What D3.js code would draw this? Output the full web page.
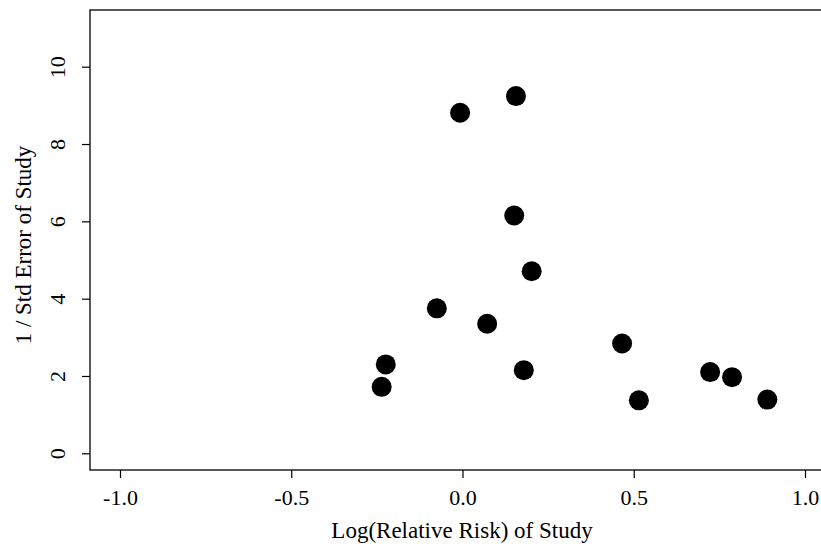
<!DOCTYPE html>
<html><head><meta charset="utf-8">
<script src="https://cdn.jsdelivr.net/npm/d3@7"></script>
<style>body{margin:0;background:#fff;}svg{display:block;}text{font-family:"Liberation Serif","Times New Roman",serif;fill:#000;}</style>
</head><body>
<script>
const logRR = [0.156, -0.007, 0.151, 0.202, -0.075, 0.072, -0.224, -0.236, 0.179, 0.466, 0.515, 0.723, 0.787, 0.890];
const invSE = [9.24, 8.81, 6.15, 4.71, 3.75, 3.35, 2.30, 1.72, 2.15, 2.84, 1.37, 2.10, 1.97, 1.39];
const xTicks = [-1.0, -0.5, 0.0, 0.5, 1.0];
const xTickLabels = ["-1.0", "-0.5", "0.0", "0.5", "1.0"];
const yTicks = [0, 2, 4, 6, 8, 10];
const xTitle = "Log(Relative Risk) of Study";
const yTitle = "1 / Std Error of Study";

const W = 821, H = 554;
const svg = d3.select("body").append("svg").attr("width", W).attr("height", H);
const box = {left: 90, top: 10, right: 840, bottom: 470};
const x = d3.scaleLinear().domain([-1, 1]).range([120, 805]);
const y = d3.scaleLinear().domain([0, 10]).range([453.3, 66.7]);

svg.append("rect").attr("x", box.left).attr("y", box.top)
  .attr("width", box.right - box.left).attr("height", box.bottom - box.top)
  .attr("fill", "none").attr("stroke", "#000").attr("stroke-width", 1.3);

const xAxis = svg.append("g").attr("transform", `translate(0,${box.bottom})`)
  .call(d3.axisBottom(x).tickValues(xTicks).tickFormat((d, i) => xTickLabels[i]).tickSize(8).tickSizeOuter(0).tickPadding(11));
xAxis.select(".domain").remove();
xAxis.selectAll("text").attr("font-size", 22).style("font-family", '"Liberation Serif",serif');
xAxis.selectAll("line").attr("stroke-width", 1.2);

const yAxis = svg.append("g").attr("transform", `translate(${box.left},0)`)
  .call(d3.axisLeft(y).tickValues(yTicks).tickSize(8).tickSizeOuter(0).tickPadding(0));
yAxis.select(".domain").remove();
yAxis.selectAll("line").attr("stroke-width", 1.2);
yAxis.selectAll("text")
  .attr("font-size", 22).style("font-family", '"Liberation Serif",serif')
  .attr("x", null).attr("dy", null)
  .attr("text-anchor", "middle")
  .attr("transform", "translate(-25,0) rotate(-90)")
  .attr("y", 0);

svg.append("text").attr("x", 462).attr("y", 538).attr("text-anchor", "middle")
  .attr("font-size", 23).text(xTitle);
svg.append("text").attr("transform", "translate(31,245) rotate(-90)").attr("text-anchor", "middle")
  .attr("font-size", 23).text(yTitle);

svg.append("g").selectAll("circle").data(logRR).join("circle")
  .attr("cx", d => x(d)).attr("cy", (d, i) => y(invSE[i])).attr("r", 10).attr("fill", "#000");
</script>
</body></html>
